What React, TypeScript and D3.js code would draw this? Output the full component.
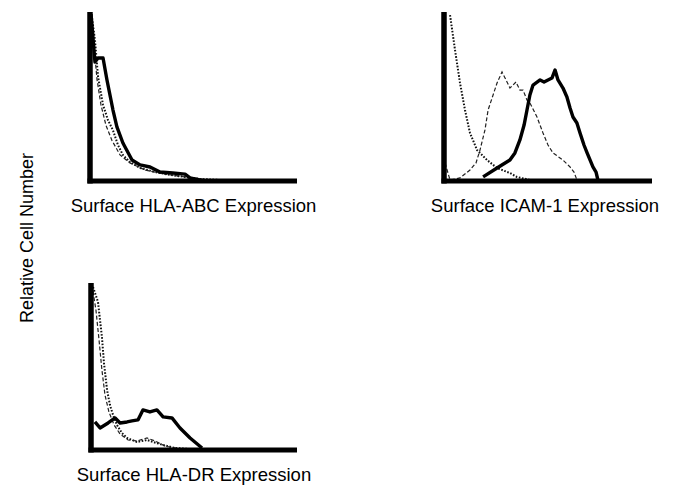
import React, { useEffect, useRef } from 'react';
import * as d3 from 'd3';

// histogram traces, [channel, relative count] (0-100 both ways)
const abcSolid: [number, number][] = [
  [0.5, 98.8], [2.4, 70.4], [3.9, 72.8], [6.3, 72.8], [8.2, 59.8], [11.1, 42], [13, 32],
  [15.9, 22.5], [20.3, 12.4], [24.2, 9.5], [29, 8.3], [33.8, 5.3], [40, 4.7], [45.9, 4.1],
  [48.3, 1.8], [53, 0.6],
];
const abcDotted: [number, number][] = [
  [1, 96.4], [2.4, 83.4], [3.9, 61.5], [6.3, 45], [8.7, 36], [11.1, 30], [13.5, 21.3],
  [15.9, 15.4], [19.3, 11.2], [24.2, 7.7], [31.4, 5.3], [38.6, 3.6], [45.9, 2.4], [53, 1.2],
  [62.8, 0.6],
];
const abcDashed: [number, number][] = [
  [0.5, 98], [1.9, 80], [3.4, 60], [5.3, 45], [7.7, 33], [10.6, 24], [14.5, 15.4],
  [19.3, 10.7], [26.6, 6.5], [36.2, 4.1], [45.9, 2.4], [58, 0.6],
];

const icamSolid: [number, number][] = [
  [18.8, 2.4], [25.5, 7.7], [31.7, 12.4], [34.1, 16.6], [36.5, 24.3], [38.5, 33.1],
  [39.9, 42], [41.3, 50.9], [42.8, 56.8], [46.2, 59.8], [48.1, 58.6], [50, 59.8],
  [51.9, 60.9], [53.4, 65.7], [54.8, 59.8], [57.2, 55], [59.1, 49.7], [60.6, 43.2],
  [62, 37.9], [63.9, 34.3], [65.4, 28.4], [67.3, 21.3], [68.8, 16.6], [71.6, 8.3],
  [73.1, 5.3], [74, 0.6],
];
const icamDotted: [number, number][] = [
  [2.9, 98.2], [5.3, 77.5], [7.7, 58], [10.1, 42], [12.5, 28.4], [15.9, 18.3], [20.7, 12.4],
  [25.5, 7.7], [31.7, 4.7], [35.1, 2.4], [41.3, 0.6],
];
const icamDashed: [number, number][] = [
  [0.5, 10.7], [2.9, 0.6], [7.7, 1.8], [12.5, 6.5], [15.4, 10.7], [17.3, 18.3], [19.7, 30.2],
  [21.2, 42], [23.6, 50.9], [25.5, 58], [27.9, 64.5], [30.3, 58.6], [31.7, 55], [33.2, 56.8],
  [34.6, 58.6], [36.5, 53.8], [38, 53.8], [39.9, 47.9], [41.3, 46.2], [44.7, 37.9],
  [47.6, 28.4], [50, 21.3], [52.4, 16.6], [57.2, 12.4], [60.6, 8.3], [62.5, 5.3], [63.9, 0.6],
];

const drSolid: [number, number][] = [
  [1.9, 16.8], [4.4, 13.2], [8.3, 16.2], [11.7, 19.2], [14.1, 16.2], [17.5, 16.8], [19.9, 17.4],
  [22.8, 18], [25.2, 24], [28.6, 22.8], [32, 24], [35, 19.8], [39.3, 19.2], [43.2, 13.2],
  [48.1, 7.2], [53.9, 1.2],
];
const drDotted: [number, number][] = [
  [1, 97.6], [3.4, 88.6], [5.3, 67.7], [6.3, 52.1], [7.8, 35.9], [9.2, 26.9], [10.7, 21],
  [12.6, 15], [15, 10.2], [17.5, 7.2], [22.3, 4.8], [27.2, 6], [30.1, 4.8], [35, 3],
  [40.8, 1.2], [48, 0.6],
];
const drDashed: [number, number][] = [
  [0.5, 98.8], [2.4, 83.8], [3.9, 65.9], [5.3, 47.9], [6.8, 32.9], [8.7, 22.8], [11.2, 15],
  [14.1, 9.6], [18, 6], [22.3, 5.4], [27.2, 7.2], [31, 5.4], [35.9, 2.4], [43.2, 0.6],
];

const panelTitles = ['Surface HLA-ABC Expression', 'Surface ICAM-1 Expression', 'Surface HLA-DR Expression'];
const yTitle = 'Relative Cell Number';

const WIDTH = 681;
const HEIGHT = 491;

// panel frames in page pixels
const PANELS = [
  { x0: 90, x1: 297, top: 12, base: 181, solid: abcSolid, dotted: abcDotted, dashed: abcDashed },
  { x0: 444, x1: 652, top: 12, base: 181, solid: icamSolid, dotted: icamDotted, dashed: icamDashed },
  { x0: 91, x1: 297, top: 283, base: 450, solid: drSolid, dotted: drDotted, dashed: drDashed },
];

const FONT = '"Liberation Sans", Arial, Helvetica, sans-serif';

const App = () => {
  const svgRef = useRef<SVGSVGElement | null>(null);

  useEffect(() => {
    if (!svgRef.current) return;
    const svg = d3.select(svgRef.current);
    svg.selectAll('*').remove();

    svg.append('rect').attr('width', WIDTH).attr('height', HEIGHT).attr('fill', '#fff');

    PANELS.forEach((p, i) => {
      const xScale = d3.scaleLinear().domain([0, 100]).range([p.x0, p.x1]);
      const yScale = d3.scaleLinear().domain([0, 100]).range([p.base, p.top]);
      const line = d3.line<[number, number]>()
        .x(d => xScale(d[0]))
        .y(d => yScale(d[1]));

      const g = svg.append('g');

      // dotted control trace
      g.append('path')
        .attr('d', line(p.dotted))
        .attr('fill', 'none')
        .attr('stroke', '#111')
        .attr('stroke-width', 2)
        .attr('stroke-dasharray', '1.6,1.6');

      // dashed trace
      g.append('path')
        .attr('d', line(p.dashed))
        .attr('fill', 'none')
        .attr('stroke', '#222')
        .attr('stroke-width', 1.2)
        .attr('stroke-dasharray', '4,2.2');

      // thick solid trace
      g.append('path')
        .attr('d', line(p.solid))
        .attr('fill', 'none')
        .attr('stroke', '#000')
        .attr('stroke-width', 3.4)
        .attr('stroke-linejoin', 'round');

      // axes drawn as heavy L frame
      g.append('line')
        .attr('x1', xScale(0)).attr('x2', xScale(0))
        .attr('y1', yScale(100)).attr('y2', yScale(0) + 2.5)
        .attr('stroke', '#000').attr('stroke-width', 5.5);
      g.append('line')
        .attr('x1', xScale(0) - 2.5).attr('x2', xScale(100))
        .attr('y1', yScale(0)).attr('y2', yScale(0))
        .attr('stroke', '#000').attr('stroke-width', 5);

      g.append('text')
        .attr('x', (p.x0 + p.x1) / 2 + (i === 1 ? -3 : 0))
        .attr('y', p.base + 31)
        .attr('text-anchor', 'middle')
        .attr('font-family', FONT)
        .attr('font-size', 18.5)
        .attr('fill', '#000')
        .text(panelTitles[i]);
    });

    svg.append('text')
      .attr('transform', 'translate(33, 238) rotate(-90)')
      .attr('text-anchor', 'middle')
      .attr('font-family', FONT)
      .attr('font-size', 18)
      .attr('fill', '#000')
      .text(yTitle);
  }, []);

  return (
    <svg
      ref={svgRef}
      width={WIDTH}
      height={HEIGHT}
      style={{ position: 'absolute', left: 0, top: 0, display: 'block' }}
    />
  );
};

export default App;
